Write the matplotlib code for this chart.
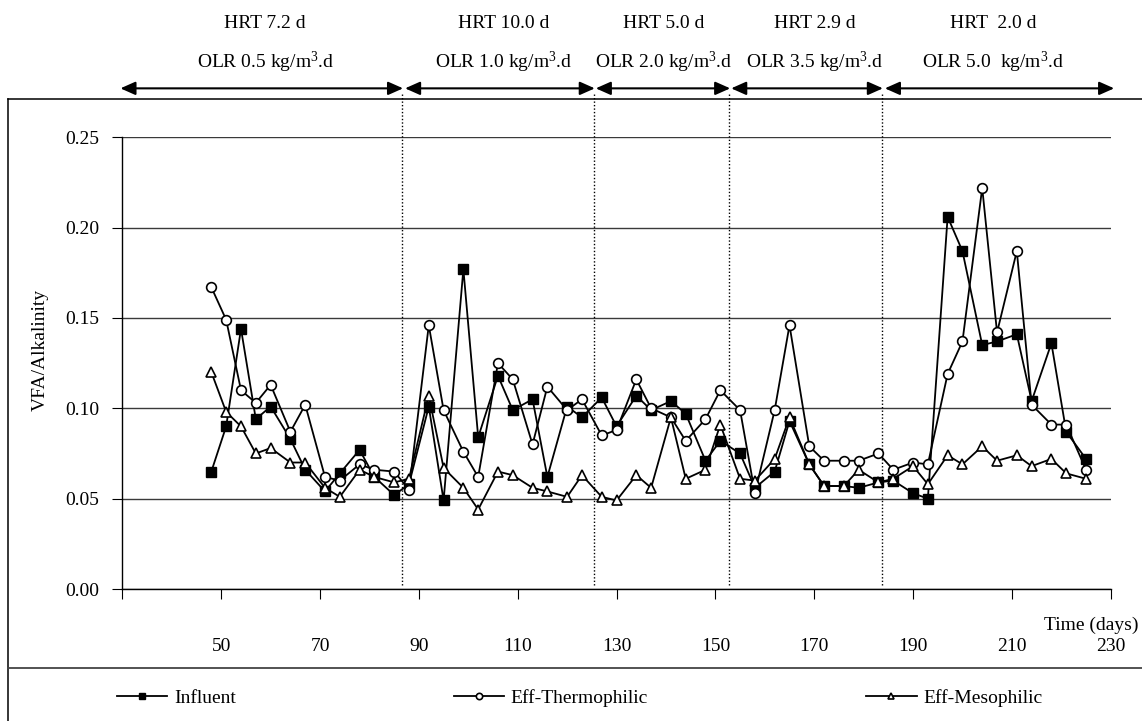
import matplotlib
matplotlib.use('Agg')
import matplotlib.pyplot as plt
import matplotlib.transforms as mtransforms
from matplotlib.lines import Line2D

plt.rcParams['font.family'] = ['Liberation Serif', 'DejaVu Serif']
plt.rcParams['font.size'] = 14
plt.rcParams['mathtext.fontset'] = 'custom'
plt.rcParams['mathtext.rm'] = 'Liberation Serif'
plt.rcParams['mathtext.it'] = 'Liberation Serif:italic'

# sampling days
days = [48, 51, 54, 57, 60, 64, 67, 71, 74, 78, 81, 85, 88, 92, 95, 99, 102, 106,
        109, 113, 116, 120, 123, 127, 130, 134, 137, 141, 144, 148, 151, 155, 158,
        162, 165, 169, 172, 176, 179, 183, 186, 190, 193, 197, 200, 204, 207, 211,
        214, 218, 221, 225]

influent = [0.065, 0.090, 0.144, 0.094, 0.101, 0.083, 0.066, 0.054, 0.064, 0.077,
            0.062, 0.052, 0.058, 0.101, 0.049, 0.177, 0.084, 0.118, 0.099, 0.105,
            0.062, 0.101, 0.095, 0.106, 0.090, 0.107, 0.099, 0.104, 0.097, 0.071,
            0.082, 0.075, 0.056, 0.065, 0.093, 0.069, 0.057, 0.057, 0.056, 0.059,
            0.060, 0.053, 0.050, 0.206, 0.187, 0.135, 0.137, 0.141, 0.104, 0.136,
            0.087, 0.072]

eff_thermo = [0.167, 0.149, 0.110, 0.103, 0.113, 0.087, 0.102, 0.062, 0.060, 0.069,
              0.066, 0.065, 0.055, 0.146, 0.099, 0.076, 0.062, 0.125, 0.116, 0.080,
              0.112, 0.099, 0.105, 0.085, 0.088, 0.116, 0.100, 0.095, 0.082, 0.094,
              0.110, 0.099, 0.053, 0.099, 0.146, 0.079, 0.071, 0.071, 0.071, 0.075,
              0.066, 0.070, 0.069, 0.119, 0.137, 0.222, 0.142, 0.187, 0.102, 0.091,
              0.091, 0.066]

eff_meso = [0.120, 0.098, 0.090, 0.075, 0.078, 0.070, 0.070, 0.056, 0.051, 0.066,
            0.062, 0.059, 0.061, 0.107, 0.067, 0.056, 0.044, 0.065, 0.063, 0.056,
            0.054, 0.051, 0.063, 0.051, 0.049, 0.063, 0.056, 0.095, 0.061, 0.066,
            0.091, 0.061, 0.060, 0.072, 0.095, 0.069, 0.057, 0.057, 0.066, 0.059,
            0.061, 0.068, 0.058, 0.074, 0.069, 0.079, 0.071, 0.074, 0.068, 0.072,
            0.064, 0.061]

# operating phases (day ranges) and their labels
phase_start = [29.6, 87.2, 125.8, 153.2, 184.3]
phase_end = [86.8, 125.6, 153.0, 183.9, 230.7]
phase_switch = [86.6, 125.5, 152.8, 183.7]
phase_label_x = [58.9, 107.1, 139.6, 170.1, 206.2]
hrt_labels = ['HRT 7.2 d', 'HRT 10.0 d', 'HRT 5.0 d', 'HRT 2.9 d', 'HRT  2.0 d']
olr_labels = ['OLR 0.5 kg/m$^{3}$.d', 'OLR 1.0 kg/m$^{3}$.d', 'OLR 2.0 kg/m$^{3}$.d',
              'OLR 3.5 kg/m$^{3}$.d', 'OLR 5.0  kg/m$^{3}$.d']

xticks = list(range(30, 231, 20))
xticklabels = [''] + [str(t) for t in xticks[1:]]
yticks = [0.00, 0.05, 0.10, 0.15, 0.20, 0.25]

W, H = 1142, 721
fig = plt.figure(figsize=(W / 100, H / 100), dpi=100)
ax = fig.add_axes([122.4 / W, (H - 589) / H, 988.3 / W, 451.7 / H])

l1, = ax.plot(days, influent, color='black', lw=1.3, marker='s', ms=6.5,
              mfc='black', mec='black', mew=1.0, zorder=3, label='Influent')
l2, = ax.plot(days, eff_thermo, color='black', lw=1.3, marker='o', ms=7,
              mfc='white', mec='black', mew=1.2, zorder=4, label='Eff-Thermophilic')
l3, = ax.plot(days, eff_meso, color='black', lw=1.3, marker='^', ms=7,
              mfc='white', mec='black', mew=1.2, zorder=5, label='Eff-Mesophilic')

ax.set_xlim(30, 230)
ax.set_ylim(0, 0.25)
ax.set_xticks(xticks)
ax.set_xticklabels(xticklabels)
ax.set_yticks(yticks)
ax.set_yticklabels(['%.2f' % v for v in yticks])
ax.yaxis.grid(True, color='#3a3a3a', lw=1.0)
ax.set_axisbelow(True)
for s in ['top', 'right']:
    ax.spines[s].set_visible(False)
for s in ['left', 'bottom']:
    ax.spines[s].set_linewidth(1.0)
ax.tick_params(axis='x', direction='out', length=7.2, width=0.8, pad=28)
ax.tick_params(axis='y', direction='out', length=7.2, width=0.8, pad=9.5)

# phase switches: dotted lines and double arrows above the plot
y_arrow = (589 - 88.3) / 1807
for d in phase_switch:
    ax.plot([d, d], [0.002, (589 - 93) / 1807], color='black', lw=1.0,
            ls=(0, (1, 1.5)), clip_on=False, zorder=2)
for x0, x1 in zip(phase_start, phase_end):
    ax.annotate('', xy=(x1, y_arrow), xytext=(x0, y_arrow), xycoords='data',
                annotation_clip=False,
                arrowprops=dict(arrowstyle='<|-|>,head_length=0.45,head_width=0.2',
                                mutation_scale=20, color='black', lw=1.5,
                                shrinkA=0, shrinkB=0))

trans = mtransforms.blended_transform_factory(ax.transData, fig.transFigure)
for xc, h, o in zip(phase_label_x, hrt_labels, olr_labels):
    ax.text(xc, 1 - 23 / H, h, transform=trans, ha='center', va='center')
    ax.text(xc, 1 - 62 / H, o, transform=trans, ha='center', va='center')

fig.text(1139 / W, 1 - 625 / H, 'Time (days)', ha='right', va='center')
fig.text(40 / W, 1 - 350 / H, 'VFA/Alkalinity', rotation=90, ha='center', va='center')

# chart frame and legend divider
x_l = 8.3 / W
y_t = 1 - 99.3 / H
y_leg = 1 - 667.7 / H
fig.add_artist(Line2D([x_l, 1], [y_t, y_t], color='black', lw=1.1))
fig.add_artist(Line2D([x_l, x_l], [0, y_t], color='black', lw=1.1))
fig.add_artist(Line2D([x_l, 1], [y_leg, y_leg], color='#444444', lw=1.3))

fig.legend(handles=[l1, l2, l3], ncol=3, loc='center left',
           bbox_to_anchor=(116.5 / W, 1 - 698 / H), frameon=False,
           borderpad=0, borderaxespad=0, handlelength=2.6, handletextpad=0.35,
           columnspacing=11.2, markerscale=0.65)

fig.savefig('out.png', dpi=100)
